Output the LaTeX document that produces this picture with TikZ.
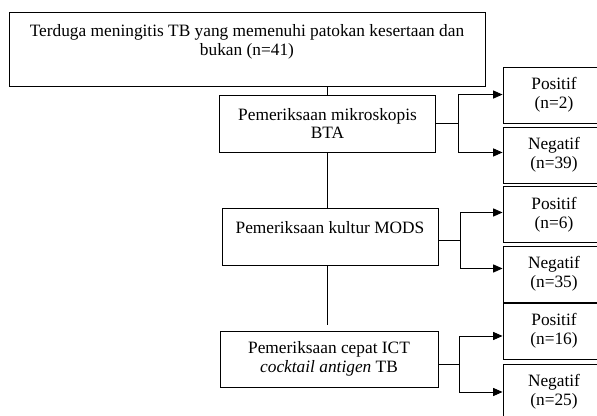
\documentclass[tikz,border=0pt]{standalone}
\usepackage{fontspec}
\setmainfont{Liberation Serif}
\usetikzlibrary{arrows.meta}
\begin{document}
\begin{tikzpicture}[x=0.75pt,y=-0.75pt,line width=0.7pt,
		box/.style={draw,align=center,inner sep=0pt,font=\fontsize{13}{14}\selectfont},
		uji/.style={box,minimum width=162pt,minimum height=42.75pt},
		hasil/.style={box,minimum width=76.5pt,minimum height=42pt},
		arr/.style={-{Triangle[length=7pt,width=6pt]}}]
		\clip (0,0) rectangle (597,416);
		\node (awal) at (247,49) [box,minimum width=357pt,minimum height=55.5pt] {Terduga meningitis TB yang memenuhi patokan kesertaan dan\\bukan (n=41)\\\mbox{}};
		\node (bta) at (327.5,123.5) [uji] {Pemeriksaan mikroskopis\\BTA};
		\node (mods) at (330,236.5) [uji] {Pemeriksaan kultur MODS\\\mbox{}};
		\node (ict) at (329,359) [uji,minimum width=163.5pt,minimum height=42pt] {Pemeriksaan cepat ICT\\\textit{cocktail antigen} TB};
		\node (pos1) at (554,95) [hasil] {Positif\\(n=2)};
		\node (neg1) at (554,155) [hasil] {Negatif\\(n=39)};
		\node (pos2) at (554,214.5) [hasil] {Positif\\(n=6)};
		\node (neg2) at (554,274) [hasil] {Negatif\\(n=35)};
		\node (pos3) at (554,331) [hasil] {Positif\\(n=16)};
		\node (neg3) at (554,392) [hasil] {Negatif\\(n=25)};
		\coordinate (ujung) at ([yshift=4.5pt]ict.north);
		\draw (awal.south -| bta.north) -- (bta.north);
		\draw (bta.south) -- (bta.south |- mods.north);
		\draw (mods.south -| bta.south) -- (ujung -| bta.south);
		\draw (bta.east) -- ++(22,0) coordinate (c1);
		\draw[arr] (c1) -- (c1 |- bta.north) -- (pos1.west |- bta.north);
		\draw[arr] (c1) -- (c1 |- bta.south) -- (neg1.west |- bta.south);
		\draw ([yshift=-3pt]mods.east) -- ++(22,0) coordinate (c2);
		\draw[arr] (c2) -- ++(0,-28) coordinate (p2) -- (p2 -| pos2.west);
		\draw[arr] (c2) -- ++(0,28) coordinate (n2) -- (n2 -| neg2.west);
		\draw ([yshift=-3.75pt]ict.east) -- ++(21,0) coordinate (c3);
		\draw[arr] (c3) -- ++(0,-28) coordinate (p3) -- (p3 -| pos3.west);
		\draw[arr] (c3) -- ++(0,28) coordinate (n3) -- (n3 -| neg3.west);
	\end{tikzpicture}
\end{document}
